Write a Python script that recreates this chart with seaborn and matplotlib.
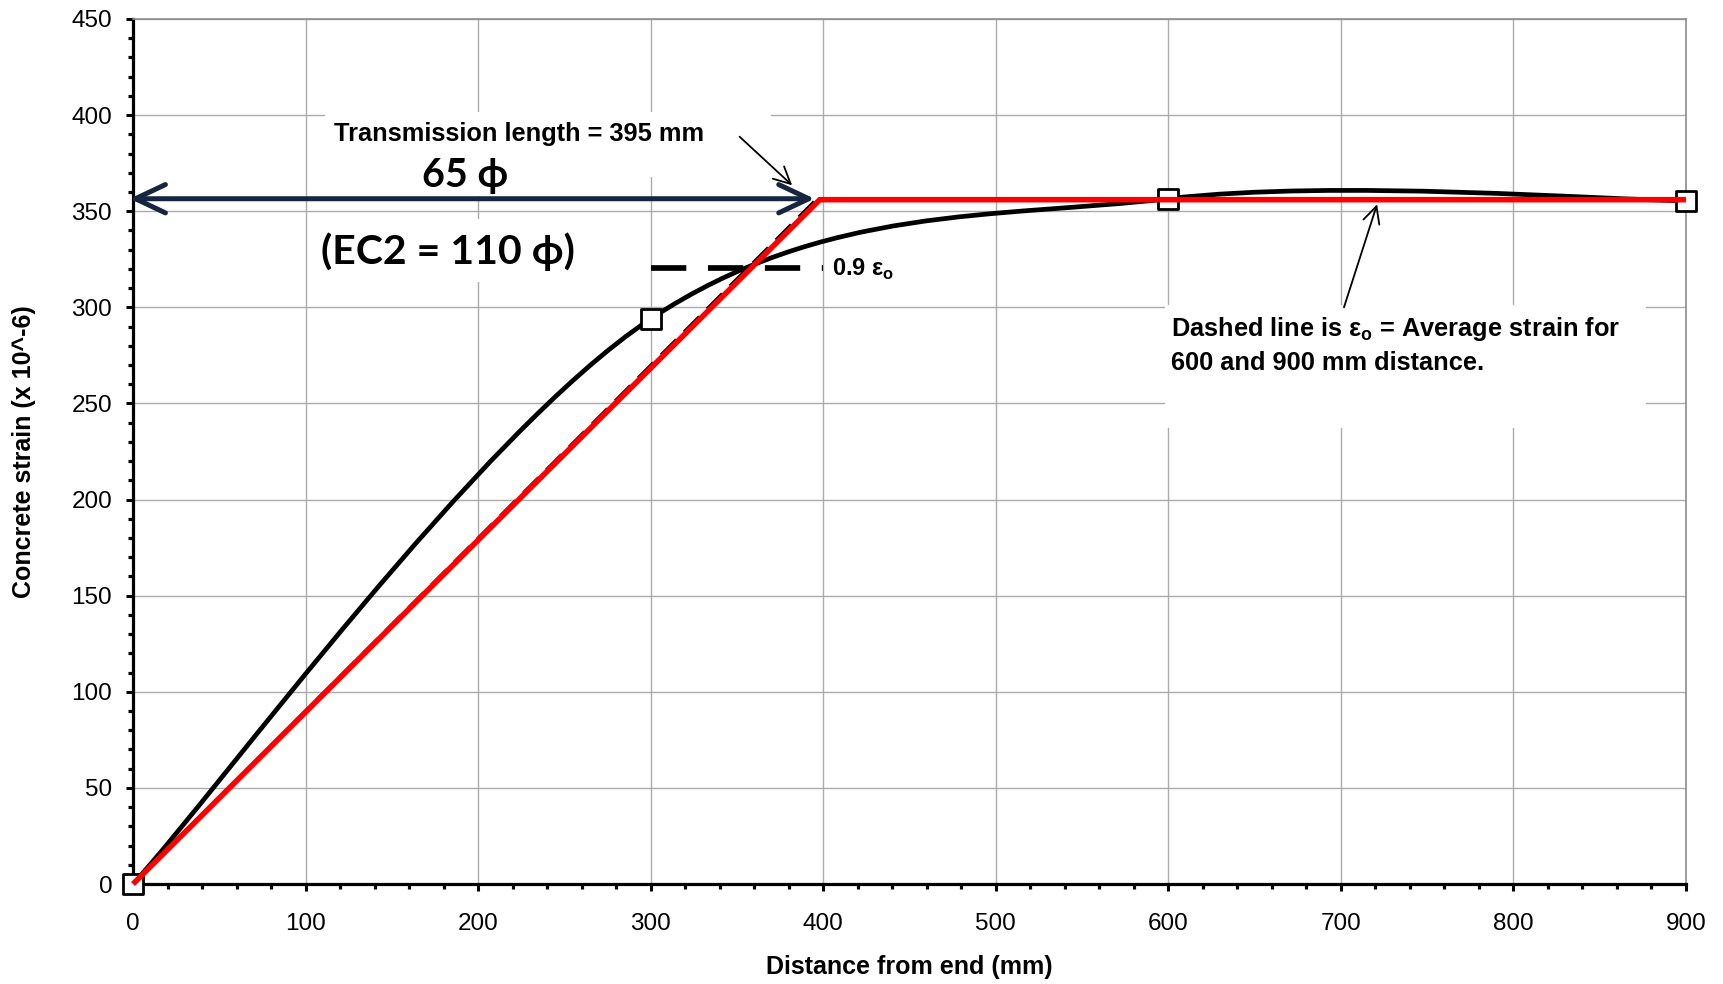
import numpy as np
import matplotlib
matplotlib.use("Agg")
import matplotlib.pyplot as plt
import seaborn as sns
from matplotlib.path import Path
from matplotlib.patches import PathPatch, Rectangle
from matplotlib.ticker import MultipleLocator

# ------------------------------
# Data
# ------------------------------
# measured concrete strain (x 10^-6) at distance from end (mm)
distance = [0, 300, 600, 900]
strain = [0, 294, 356.5, 355.5]

# idealised bilinear fit (red) and eps_o = average of 600/900 mm (black dashed)
fit_x = [0, 398, 900]
fit_y = [0, 356, 356]
avg_x = [0, 396, 900]
avg_y = [0, 356, 356]

# 0.9 eps_o level, drawn between 300 and 400 mm
eps09_x = [300, 400]
eps09_y = [320.5, 320.5]

# transmission length arrow
trans_len = 395
trans_y = 356.5

x_ticks = list(range(0, 901, 100))
y_ticks = list(range(0, 451, 50))

BOLD = ["Liberation Sans", "DejaVu Sans"]
BIG = ["Lato", "Noto Sans", "DejaVu Sans"]


def smooth_path(xs, ys):
    # Excel style smoothed line: bezier segments through the data points
    pts = np.column_stack([xs, ys]).astype(float)
    n = len(pts)
    verts = [pts[0]]
    codes = [Path.MOVETO]
    for i in range(n - 1):
        p0 = pts[max(i - 1, 0)]
        p1 = pts[i]
        p2 = pts[i + 1]
        p3 = pts[min(i + 2, n - 1)]
        verts += [p1 + (p2 - p0) / 6, p2 - (p3 - p1) / 6, p2]
        codes += [Path.CURVE4] * 3
    return Path(verts, codes)


def main():
    sns.set_theme(style="white")
    plt.rcParams["font.family"] = ["Liberation Sans", "DejaVu Sans"]
    plt.rcParams["text.color"] = "black"
    plt.rcParams["axes.labelcolor"] = "black"

    fig = plt.figure(figsize=(17.23, 9.84), dpi=100)
    ax = fig.add_axes([0.0772, 0.1016, 0.9013, 0.8791])

    # measured curve (smoothed) + markers
    ax.add_patch(PathPatch(smooth_path(distance, strain), fill=False,
                           edgecolor="black", lw=3.4, zorder=3))
    sns.scatterplot(x=distance, y=strain, marker="s", s=200, color="white",
                    edgecolor="black", linewidth=2.0, zorder=4, clip_on=False, ax=ax)

    # eps_o dashed line and red bilinear fit
    sns.lineplot(x=avg_x, y=avg_y, color="black", lw=2.6, estimator=None, sort=False,
                 linestyle=(0, (6, 3)), zorder=4.5, ax=ax)
    sns.lineplot(x=fit_x, y=fit_y, color="#FF0000", lw=4.0, estimator=None, sort=False,
                 solid_joinstyle="miter", solid_capstyle="butt", zorder=5, clip_on=False, ax=ax)

    # 0.9 eps_o
    sns.lineplot(x=eps09_x, y=eps09_y, color="black", lw=4.1, estimator=None, sort=False,
                 linestyle=(0, (6.2, 3.8)), dash_capstyle="butt", zorder=4.2, ax=ax)

    # axes
    ax.set_xlim(0, 900)
    ax.set_ylim(0, 450)
    ax.set_xticks(x_ticks)
    ax.set_yticks(y_ticks)
    ax.set_xticklabels([str(v) for v in x_ticks])
    ax.set_yticklabels([str(v) for v in y_ticks])
    ax.xaxis.set_minor_locator(MultipleLocator(20))
    ax.yaxis.set_minor_locator(MultipleLocator(10))
    ax.set_axisbelow(True)
    ax.grid(True, which="major", color="#ababab", lw=1.0)

    for side in ["left", "bottom"]:
        ax.spines[side].set_color("black")
        ax.spines[side].set_linewidth(2.3)
    for side in ["top", "right"]:
        ax.spines[side].set_color("#8c8c8c")
        ax.spines[side].set_linewidth(1.2)

    ax.tick_params(axis="both", which="major", direction="out", length=5, width=2.2,
                   color="black", labelsize=17.5, labelcolor="black",
                   bottom=True, left=True, top=False, right=False)
    ax.tick_params(axis="both", which="minor", direction="out", length=3.8, width=2.3,
                   color="black", bottom=True, left=True, top=False, right=False)
    ax.tick_params(axis="x", which="major", pad=16)
    ax.tick_params(axis="y", which="major", pad=10)

    ax.set_xlabel("Distance from end (mm)", fontsize=18, fontweight="bold", color="black")
    ax.set_ylabel("Concrete strain (x 10^-6)", fontsize=18, fontweight="bold", color="black")
    ax.xaxis.set_label_coords(0.5, -0.096)
    ax.xaxis.label.set_va("center")
    ax.yaxis.set_label_coords(-0.0702, 0.5)
    ax.yaxis.label.set_va("center")

    # white text boxes (hide gridlines behind the annotations)
    for (bx, by, bw, bh) in [(111, 368, 259, 33.5), (104, 313, 160, 33), (598, 237, 279, 64)]:
        ax.add_patch(Rectangle((bx, by), bw, bh, facecolor="white", edgecolor="none", zorder=1.5))

    # transmission length arrow
    ax.annotate("", xy=(-2, trans_y), xytext=(trans_len, trans_y),
                arrowprops=dict(arrowstyle="<->,head_length=1.8,head_width=0.85",
                                color="#16263e", lw=3.6, shrinkA=0, shrinkB=0,
                                capstyle="round", joinstyle="round"),
                annotation_clip=False, zorder=6)

    ax.text(223.8, 386.7, "Transmission length = 395 mm", ha="center", va="baseline",
            fontsize=18.3, fontweight="bold", family=BOLD, color="black", zorder=6)
    ax.annotate("", xy=(382, 363.5), xytext=(351.5, 388.8),
                arrowprops=dict(arrowstyle="->,head_length=1.0,head_width=0.5",
                                color="black", lw=1.3, shrinkA=0, shrinkB=0), zorder=6)

    ax.text(192.6, 362.5, "65 ϕ", ha="center", va="baseline", fontsize=28.5,
            fontweight="bold", family=BIG, color="black", zorder=6,
            bbox=dict(facecolor="white", edgecolor="none", pad=1))
    ax.text(182.4, 322.6, "(EC2 = 110 ϕ)", ha="center", va="baseline", fontsize=29.5,
            fontweight="bold", family=BIG, color="black", zorder=6)

    ax.text(405.3, 316.3, r"0.9 ε$_{\mathregular{o}}$", ha="left", va="baseline",
            fontsize=17, fontweight="bold", family=BOLD, color="black", zorder=6)

    # eps_o note
    ax.text(601.6, 285.3, r"Dashed line is ε$_{\mathregular{o}}$ = Average strain for",
            ha="left", va="baseline", fontsize=18.3, fontweight="bold", family=BOLD,
            color="black", zorder=6)
    ax.text(601.6, 267.2, "600 and 900 mm distance.", ha="left", va="baseline",
            fontsize=18.3, fontweight="bold", family=BOLD, color="black", zorder=6)
    ax.annotate("", xy=(721, 353.6), xytext=(701.8, 300),
                arrowprops=dict(arrowstyle="->,head_length=1.0,head_width=0.5",
                                color="black", lw=1.3, shrinkA=0, shrinkB=0), zorder=6)

    fig.savefig("out.png", dpi=100)


if __name__ == "__main__":
    main()
